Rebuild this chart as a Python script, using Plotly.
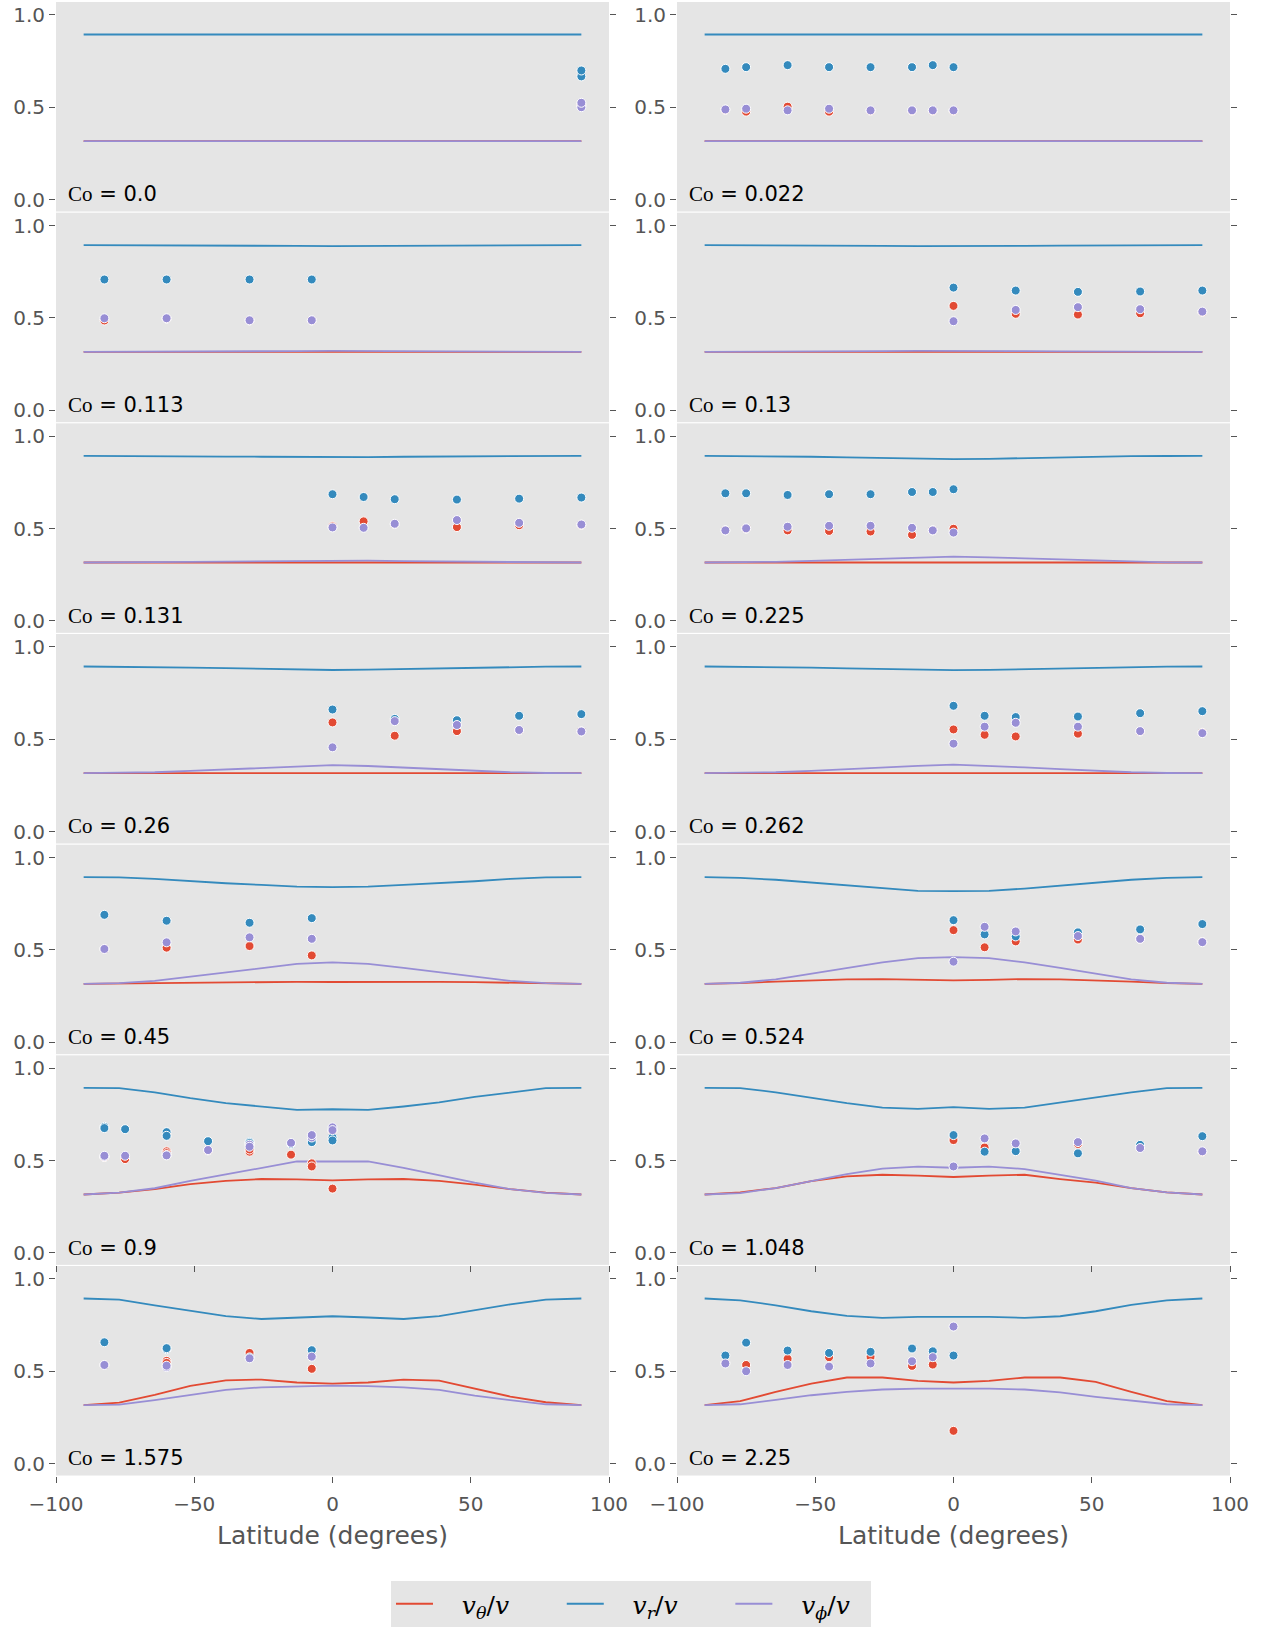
import plotly.graph_objects as go

# ---------------- data ----------------
LAT_LINE = [-90, -77.14, -64.29, -51.43, -38.57, -25.71, -12.86, 0,
            12.86, 25.71, 38.57, 51.43, 64.29, 77.14, 90]

CO_LABELS = ["0.0", "0.022", "0.113", "0.13", "0.131", "0.225", "0.26",
             "0.262", "0.45", "0.524", "0.9", "1.048", "1.575", "2.25"]

X_TICKS = [-100, -50, 0, 50, 100]
Y_TICKS = [0.0, 0.5, 1.0]
Y_TICKTEXT = ["0.0", "0.5", "1.0"]

# Panel 1  (Co = 0.0)
line_t_1 = [0.316, 0.316, 0.316, 0.316, 0.316, 0.316, 0.316, 0.316, 0.316, 0.316, 0.316, 0.316, 0.316, 0.316, 0.316]
line_r_1 = [0.894, 0.894, 0.894, 0.894, 0.894, 0.894, 0.894, 0.894, 0.894, 0.894, 0.894, 0.894, 0.894, 0.894, 0.894]
line_p_1 = [0.316, 0.316, 0.316, 0.316, 0.316, 0.316, 0.316, 0.316, 0.316, 0.316, 0.316, 0.316, 0.316, 0.316, 0.316]
pts_lat_1 = [90, 90]
pts_t_1 = [0.51, 0.515]
pts_r_1 = [0.667, 0.699]
pts_p_1 = [0.50, 0.524]

# Panel 2  (Co = 0.022)
line_t_2 = [0.316, 0.316, 0.316, 0.316, 0.316, 0.316, 0.316, 0.316, 0.316, 0.316, 0.316, 0.316, 0.316, 0.316, 0.316]
line_r_2 = [0.894, 0.894, 0.894, 0.894, 0.894, 0.894, 0.894, 0.894, 0.894, 0.894, 0.894, 0.894, 0.894, 0.894, 0.894]
line_p_2 = [0.316, 0.316, 0.316, 0.316, 0.316, 0.316, 0.316, 0.316, 0.316, 0.316, 0.316, 0.316, 0.316, 0.316, 0.316]
pts_lat_2 = [-82.5, -75, -60, -45, -30, -15, -7.5, 0]
pts_t_2 = [0.486, 0.476, 0.503, 0.476, 0.481, 0.481, 0.481, 0.481]
pts_r_2 = [0.708, 0.717, 0.728, 0.717, 0.717, 0.717, 0.728, 0.717]
pts_p_2 = [0.488, 0.492, 0.483, 0.492, 0.483, 0.483, 0.483, 0.483]

# Panel 3  (Co = 0.113)
line_t_3 = [0.316, 0.316, 0.316, 0.316, 0.316, 0.316, 0.316, 0.316, 0.316, 0.316, 0.316, 0.316, 0.316, 0.316, 0.316]
line_r_3 = [0.894, 0.894, 0.893, 0.893, 0.892, 0.891, 0.890, 0.889, 0.890, 0.891, 0.892, 0.893, 0.893, 0.894, 0.894]
line_p_3 = [0.316, 0.316, 0.317, 0.317, 0.318, 0.319, 0.320, 0.321, 0.320, 0.319, 0.318, 0.317, 0.317, 0.316, 0.316]
pts_lat_3 = [-82.5, -60, -30, -7.5]
pts_t_3 = [0.486, 0.496, 0.486, 0.486]
pts_r_3 = [0.708, 0.708, 0.708, 0.708]
pts_p_3 = [0.498, 0.498, 0.487, 0.487]

# Panel 4  (Co = 0.13)
line_t_4 = [0.316, 0.316, 0.316, 0.316, 0.317, 0.317, 0.317, 0.317, 0.317, 0.317, 0.317, 0.316, 0.316, 0.316, 0.316]
line_r_4 = [0.894, 0.894, 0.893, 0.892, 0.891, 0.890, 0.889, 0.888, 0.889, 0.890, 0.891, 0.892, 0.893, 0.894, 0.894]
line_p_4 = [0.316, 0.316, 0.317, 0.318, 0.319, 0.320, 0.321, 0.322, 0.321, 0.320, 0.319, 0.318, 0.317, 0.316, 0.316]
pts_lat_4 = [0, 22.5, 45, 67.5, 90]
pts_t_4 = [0.565, 0.522, 0.518, 0.525, 0.532]
pts_r_4 = [0.664, 0.648, 0.641, 0.643, 0.648]
pts_p_4 = [0.482, 0.543, 0.558, 0.547, 0.534]

# Panel 5  (Co = 0.131)
line_t_5 = [0.316, 0.316, 0.316, 0.317, 0.317, 0.318, 0.319, 0.319, 0.319, 0.318, 0.317, 0.317, 0.316, 0.316, 0.316]
line_r_5 = [0.894, 0.894, 0.893, 0.892, 0.890, 0.889, 0.887, 0.886, 0.887, 0.889, 0.890, 0.892, 0.893, 0.894, 0.894]
line_p_5 = [0.316, 0.316, 0.317, 0.319, 0.321, 0.323, 0.326, 0.327, 0.326, 0.323, 0.321, 0.319, 0.317, 0.316, 0.316]
pts_lat_5 = [0, 11.25, 22.5, 45, 67.5, 90]
pts_t_5 = [0.512, 0.539, 0.524, 0.508, 0.518, 0.520]
pts_r_5 = [0.686, 0.671, 0.659, 0.657, 0.662, 0.668]
pts_p_5 = [0.506, 0.504, 0.526, 0.546, 0.531, 0.522]

# Panel 6  (Co = 0.225)
line_t_6 = [0.316, 0.316, 0.316, 0.317, 0.317, 0.318, 0.319, 0.319, 0.319, 0.318, 0.317, 0.317, 0.316, 0.316, 0.316]
line_r_6 = [0.894, 0.893, 0.892, 0.889, 0.886, 0.882, 0.878, 0.876, 0.878, 0.882, 0.886, 0.889, 0.892, 0.893, 0.894]
line_p_6 = [0.316, 0.317, 0.320, 0.325, 0.331, 0.338, 0.344, 0.348, 0.344, 0.338, 0.331, 0.325, 0.320, 0.317, 0.316]
pts_lat_6 = [-82.5, -75, -60, -45, -30, -15, -7.5, 0]
pts_t_6 = [0.490, 0.500, 0.490, 0.487, 0.484, 0.466, 0.490, 0.499]
pts_r_6 = [0.691, 0.691, 0.682, 0.686, 0.686, 0.698, 0.698, 0.713]
pts_p_6 = [0.490, 0.501, 0.510, 0.515, 0.515, 0.504, 0.490, 0.478]

# Panel 7  (Co = 0.26)
line_t_7 = [0.316, 0.316, 0.316, 0.317, 0.318, 0.319, 0.320, 0.320, 0.320, 0.319, 0.318, 0.317, 0.316, 0.316, 0.316]
line_r_7 = [0.894, 0.893, 0.891, 0.888, 0.885, 0.881, 0.877, 0.875, 0.877, 0.881, 0.885, 0.888, 0.891, 0.893, 0.894]
line_p_7 = [0.316, 0.317, 0.321, 0.328, 0.337, 0.346, 0.355, 0.360, 0.355, 0.346, 0.337, 0.328, 0.321, 0.317, 0.316]
pts_lat_7 = [0, 22.5, 45, 67.5, 90]
pts_t_7 = [0.591, 0.519, 0.544, 0.548, 0.542]
pts_r_7 = [0.661, 0.610, 0.603, 0.627, 0.636]
pts_p_7 = [0.456, 0.598, 0.577, 0.550, 0.542]

# Panel 8  (Co = 0.262)
line_t_8 = [0.316, 0.316, 0.316, 0.317, 0.318, 0.319, 0.320, 0.320, 0.320, 0.319, 0.318, 0.317, 0.316, 0.316, 0.316]
line_r_8 = [0.894, 0.893, 0.891, 0.888, 0.884, 0.880, 0.876, 0.874, 0.876, 0.880, 0.884, 0.888, 0.891, 0.893, 0.894]
line_p_8 = [0.316, 0.317, 0.321, 0.328, 0.338, 0.347, 0.356, 0.362, 0.356, 0.347, 0.338, 0.328, 0.321, 0.317, 0.316]
pts_lat_8 = [0, 11.25, 22.5, 45, 67.5, 90]
pts_t_8 = [0.553, 0.524, 0.515, 0.530, 0.542, 0.535]
pts_r_8 = [0.681, 0.627, 0.620, 0.623, 0.641, 0.652]
pts_p_8 = [0.476, 0.568, 0.589, 0.568, 0.544, 0.533]

# Panel 9  (Co = 0.45)
line_t_9 = [0.316, 0.318, 0.322, 0.325, 0.327, 0.328, 0.327, 0.326, 0.327, 0.328, 0.327, 0.325, 0.322, 0.318, 0.316]
line_r_9 = [0.894, 0.893, 0.885, 0.872, 0.861, 0.852, 0.843, 0.840, 0.843, 0.852, 0.861, 0.872, 0.885, 0.893, 0.894]
line_p_9 = [0.316, 0.320, 0.332, 0.355, 0.380, 0.403, 0.424, 0.432, 0.424, 0.403, 0.380, 0.355, 0.332, 0.320, 0.316]
pts_lat_9 = [-82.5, -60, -30, -7.5]
pts_t_9 = [0.505, 0.512, 0.521, 0.470]
pts_r_9 = [0.690, 0.658, 0.647, 0.672]
pts_p_9 = [0.505, 0.541, 0.568, 0.560]

# Panel 10 (Co = 0.524)
line_t_10 = [0.316, 0.320, 0.328, 0.335, 0.340, 0.342, 0.338, 0.335, 0.338, 0.342, 0.340, 0.335, 0.328, 0.320, 0.316]
line_r_10 = [0.894, 0.890, 0.880, 0.865, 0.848, 0.832, 0.820, 0.818, 0.820, 0.832, 0.848, 0.865, 0.880, 0.890, 0.894]
line_p_10 = [0.316, 0.322, 0.340, 0.370, 0.402, 0.432, 0.455, 0.461, 0.455, 0.432, 0.402, 0.370, 0.340, 0.322, 0.316]
pts_lat_10 = [0, 11.25, 22.5, 45, 67.5, 90]
pts_t_10 = [0.607, 0.514, 0.546, 0.556, 0.560, 0.542]
pts_r_10 = [0.661, 0.584, 0.573, 0.595, 0.611, 0.640]
pts_p_10 = [0.436, 0.625, 0.600, 0.575, 0.560, 0.542]

# Panel 11 (Co = 0.9)
line_t_11 = [0.316, 0.326, 0.345, 0.372, 0.390, 0.400, 0.398, 0.393, 0.398, 0.400, 0.390, 0.370, 0.345, 0.326, 0.316]
line_r_11 = [0.894, 0.892, 0.870, 0.838, 0.811, 0.793, 0.775, 0.778, 0.775, 0.793, 0.815, 0.845, 0.870, 0.892, 0.894]
line_p_11 = [0.316, 0.326, 0.350, 0.390, 0.425, 0.460, 0.495, 0.495, 0.495, 0.460, 0.420, 0.380, 0.345, 0.325, 0.316]
pts_lat_11 = [-82.5, -82.5, -75, -60, -60, -45, -30, -30, -15, -7.5, -7.5, 0, 0]
pts_t_11 = [0.520, 0.520, 0.508, 0.550, 0.540, 0.555, 0.548, 0.560, 0.532, 0.485, 0.468, 0.660, 0.348]
pts_r_11 = [0.683, 0.676, 0.670, 0.654, 0.634, 0.605, 0.600, 0.595, 0.590, 0.610, 0.600, 0.625, 0.609]
pts_p_11 = [0.522, 0.526, 0.526, 0.530, 0.528, 0.557, 0.586, 0.575, 0.596, 0.625, 0.638, 0.680, 0.665]

# Panel 12 (Co = 1.048)
line_t_12 = [0.316, 0.328, 0.351, 0.388, 0.414, 0.423, 0.418, 0.411, 0.418, 0.423, 0.400, 0.380, 0.351, 0.328, 0.316]
line_r_12 = [0.894, 0.892, 0.870, 0.841, 0.811, 0.787, 0.780, 0.789, 0.780, 0.787, 0.814, 0.841, 0.870, 0.892, 0.894]
line_p_12 = [0.316, 0.324, 0.351, 0.391, 0.427, 0.456, 0.467, 0.461, 0.467, 0.454, 0.423, 0.391, 0.351, 0.328, 0.316]
pts_lat_12 = [0, 11.25, 22.5, 45, 67.5, 90]
pts_t_12 = [0.611, 0.571, 0.552, 0.590, 0.570, 0.548]
pts_r_12 = [0.638, 0.548, 0.551, 0.539, 0.585, 0.632]
pts_p_12 = [0.468, 0.620, 0.593, 0.600, 0.568, 0.550]

# Panel 13 (Co = 1.575)
line_t_13 = [0.316, 0.330, 0.372, 0.421, 0.451, 0.455, 0.439, 0.433, 0.439, 0.455, 0.449, 0.408, 0.363, 0.332, 0.316]
line_r_13 = [0.894, 0.888, 0.857, 0.829, 0.798, 0.783, 0.791, 0.798, 0.791, 0.783, 0.798, 0.829, 0.862, 0.888, 0.894]
line_p_13 = [0.316, 0.319, 0.343, 0.372, 0.399, 0.413, 0.419, 0.422, 0.419, 0.413, 0.399, 0.368, 0.343, 0.321, 0.316]
pts_lat_13 = [-82.5, -60, -60, -30, -7.5]
pts_t_13 = [0.534, 0.556, 0.545, 0.599, 0.513]
pts_r_13 = [0.657, 0.619, 0.625, 0.575, 0.614]
pts_p_13 = [0.534, 0.523, 0.530, 0.570, 0.579]

# Panel 14 (Co = 2.25)
line_t_14 = [0.316, 0.338, 0.388, 0.433, 0.466, 0.466, 0.448, 0.439, 0.448, 0.466, 0.466, 0.442, 0.388, 0.338, 0.316]
line_r_14 = [0.894, 0.884, 0.857, 0.825, 0.800, 0.789, 0.794, 0.796, 0.794, 0.789, 0.798, 0.825, 0.859, 0.884, 0.894]
line_p_14 = [0.316, 0.321, 0.345, 0.370, 0.388, 0.401, 0.406, 0.408, 0.406, 0.401, 0.385, 0.361, 0.339, 0.321, 0.316]
pts_lat_14 = [-82.5, -75, -60, -45, -30, -15, -7.5, 0]
pts_t_14 = [0.545, 0.534, 0.567, 0.576, 0.578, 0.529, 0.536, 0.177]
pts_r_14 = [0.585, 0.655, 0.612, 0.599, 0.605, 0.623, 0.608, 0.585]
pts_p_14 = [0.542, 0.500, 0.534, 0.525, 0.542, 0.554, 0.576, 0.742]

panels = [
    (line_t_1, line_r_1, line_p_1, pts_lat_1, pts_t_1, pts_r_1, pts_p_1),
    (line_t_2, line_r_2, line_p_2, pts_lat_2, pts_t_2, pts_r_2, pts_p_2),
    (line_t_3, line_r_3, line_p_3, pts_lat_3, pts_t_3, pts_r_3, pts_p_3),
    (line_t_4, line_r_4, line_p_4, pts_lat_4, pts_t_4, pts_r_4, pts_p_4),
    (line_t_5, line_r_5, line_p_5, pts_lat_5, pts_t_5, pts_r_5, pts_p_5),
    (line_t_6, line_r_6, line_p_6, pts_lat_6, pts_t_6, pts_r_6, pts_p_6),
    (line_t_7, line_r_7, line_p_7, pts_lat_7, pts_t_7, pts_r_7, pts_p_7),
    (line_t_8, line_r_8, line_p_8, pts_lat_8, pts_t_8, pts_r_8, pts_p_8),
    (line_t_9, line_r_9, line_p_9, pts_lat_9, pts_t_9, pts_r_9, pts_p_9),
    (line_t_10, line_r_10, line_p_10, pts_lat_10, pts_t_10, pts_r_10, pts_p_10),
    (line_t_11, line_r_11, line_p_11, pts_lat_11, pts_t_11, pts_r_11, pts_p_11),
    (line_t_12, line_r_12, line_p_12, pts_lat_12, pts_t_12, pts_r_12, pts_p_12),
    (line_t_13, line_r_13, line_p_13, pts_lat_13, pts_t_13, pts_r_13, pts_p_13),
    (line_t_14, line_r_14, line_p_14, pts_lat_14, pts_t_14, pts_r_14, pts_p_14),
]

# ---------------- style ----------------
W, H = 1273, 1632
RED, BLUE, PURPLE = "#E24A33", "#348ABD", "#988ED5"
BG = "#E5E5E5"
TICK_COL = "#555555"
SANS = "DejaVu Sans"
SERIF = "DejaVu Serif"
GAP = "&nbsp;" * 3
TRAIL = "&nbsp;" * 6
NAMES = [GAP + "<i>v<sub>θ</sub></i>/<i>v</i>" + TRAIL,
         GAP + "<i>v<sub>r</sub></i>/<i>v</i>" + TRAIL,
         GAP + "<i>v<sub>ϕ</sub></i>/<i>v</i>" + "&nbsp;" * 2]
COLS = [RED, BLUE, PURPLE]

NROWS = 7
ROW_TOP0 = 2.0          # page px of first panel top
ROW_STEP = 210.67
ROW_H = 209.5
COL_X = [(56, 609), (677, 1230)]
Y_LO, Y_HI = -0.065, 1.07


def fx(px):
    return px / W


def fy(px):
    return 1 - px / H


fig = go.Figure()
layout = dict(
    width=W, height=H,
    margin=dict(l=0, r=0, t=0, b=0, autoexpand=False),
    paper_bgcolor="white", plot_bgcolor=BG,
    showlegend=True,
    legend=dict(orientation="h", x=fx(391), xanchor="left",
                y=fy(1581), yanchor="top",
                bgcolor=BG, borderwidth=0,
                font=dict(family=SERIF, size=25, color="black"),
                itemwidth=37, tracegroupgap=0),
)
annotations = []

for k, (lt, lr, lp, plat, pt, pr, pp) in enumerate(panels):
    idx = k + 1
    row, col = k // 2, k % 2
    xs = "x" if idx == 1 else f"x{idx}"
    ys = "y" if idx == 1 else f"y{idx}"
    xa = "xaxis" if idx == 1 else f"xaxis{idx}"
    ya = "yaxis" if idx == 1 else f"yaxis{idx}"

    top = ROW_TOP0 + row * ROW_STEP
    bot = top + ROW_H
    x0, x1 = COL_X[col]

    for series, c, nm in zip((lt, lr, lp), COLS, NAMES):
        fig.add_trace(go.Scatter(
            x=LAT_LINE, y=series, mode="lines", xaxis=xs, yaxis=ys,
            line=dict(color=c, width=1.8), name=nm,
            showlegend=(idx == 1), hoverinfo="skip"))
    for series, c in zip((pt, pr, pp), COLS):
        fig.add_trace(go.Scatter(
            x=plat, y=series, mode="markers", xaxis=xs, yaxis=ys,
            marker=dict(color=c, size=9, line=dict(color="white", width=1)),
            showlegend=False, hoverinfo="skip"))

    last = row == NROWS - 1
    xticks = "outside" if row >= NROWS - 2 else ""
    xaxis = dict(
        domain=[fx(x0), fx(x1)], range=[-100, 100], anchor=ys,
        automargin=False,
        showgrid=False, zeroline=False, showline=False,
        tickvals=X_TICKS, ticks=xticks, ticklen=6, tickcolor=TICK_COL,
        showticklabels=last, ticklabelstandoff=4 if last else 0,
        tickfont=dict(family=SANS, size=20, color=TICK_COL),
    )
    if last:
        xaxis["title"] = dict(text="Latitude (degrees)",
                              font=dict(family=SANS, size=25, color=TICK_COL),
                              standoff=11)
    layout[xa] = xaxis
    layout[ya] = dict(
        domain=[fy(bot), fy(top)],
        range=[Y_LO, Y_HI], anchor=xs,
        automargin=False,
        showgrid=False, zeroline=False, showline=False,
        tickvals=Y_TICKS, ticktext=Y_TICKTEXT,
        ticks="outside", ticklen=6, tickcolor=TICK_COL, mirror="ticks",
        ticklabeloverflow="allow",
        tickfont=dict(family=SANS, size=20, color=TICK_COL),
    )
    annotations.append(dict(
        xref=xs, yref=ys, x=-96.4, y=0.028, xanchor="left", yanchor="middle",
        showarrow=False,
        text=('<span style="font-family:Liberation Serif">Co</span>'
              f' = {CO_LABELS[k]}'),
        font=dict(family=SANS, size=21, color="black"),
    ))

layout["annotations"] = annotations
fig.update_layout(**layout)
# plotly.js stays inline; the post-script only removes the browser's default
# 8px body margin so the figure sits at (0, 0); the mode bar is hidden.
fig.write_html("out.html", config={"displayModeBar": False},
               post_script="document.body.style.margin='0px';")
